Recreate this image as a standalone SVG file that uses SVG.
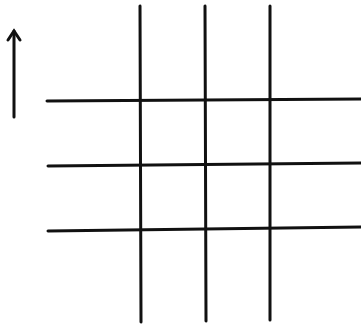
<svg xmlns="http://www.w3.org/2000/svg" width="361" height="326" viewBox="0 0 361 326">
<style>
.l{stroke:#111;stroke-width:3;stroke-linecap:round;fill:none}
</style>
<rect width="361" height="326" fill="#fff"/>
<g id="arrow">
<line class="l" x1="14" y1="31" x2="14" y2="117"/>
<polyline class="l" points="8,40 14,31 20,40" stroke-linejoin="miter"/>
</g>
<g id="grid">
<line class="l" x1="140" y1="6" x2="141" y2="322"/>
<line class="l" x1="205" y1="6" x2="206" y2="321"/>
<line class="l" x1="270" y1="6" x2="270" y2="320"/>
<line class="l" x1="47" y1="101" x2="361" y2="99"/>
<line class="l" x1="48" y1="166" x2="361" y2="163"/>
<line class="l" x1="48" y1="231" x2="361" y2="227"/>
</g>
</svg>
